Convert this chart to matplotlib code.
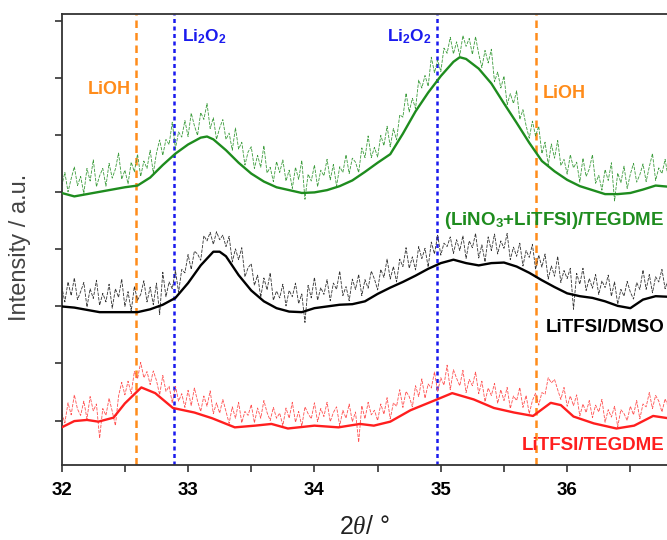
import numpy as np
import matplotlib

matplotlib.use("Agg")
import matplotlib.pyplot as plt

plt.rcParams["font.family"] = ["Liberation Sans", "DejaVu Sans"]
plt.rcParams["mathtext.fontset"] = "custom"
plt.rcParams["mathtext.rm"] = "Liberation Sans"
plt.rcParams["mathtext.bf"] = "Liberation Sans:bold"
plt.rcParams["mathtext.it"] = "Liberation Serif:italic"

# scan angles of the raw patterns (2theta, 0.025 deg step)
two_theta_raw = np.linspace(32.0, 36.8, 193)

# raw (noisy) intensities, stacked offsets included
raw_mixed = [
    4.11, 4.35, 4.01, 4.24, 4.45, 4.12, 4.28, 3.98, 4.42, 4.20,
    4.57, 4.10, 4.29, 4.42, 4.11, 4.51, 4.25, 4.41, 4.69, 4.23,
    4.39, 4.15, 4.53, 4.36, 4.67, 4.28, 4.55, 4.42, 4.74, 4.34,
    4.69, 4.92, 4.65, 4.93, 4.84, 5.23, 4.77, 5.06, 4.97, 5.26,
    4.98, 5.39, 5.17, 5.00, 5.40, 5.28, 5.56, 5.12, 5.31, 4.93,
    5.13, 5.28, 4.93, 5.04, 4.74, 5.13, 4.76, 4.88, 4.48, 4.71,
    4.80, 4.42, 4.65, 4.44, 4.82, 4.34, 4.44, 4.19, 4.54, 4.35,
    4.57, 4.20, 4.39, 4.07, 4.44, 4.23, 4.56, 3.88, 4.32, 4.20,
    4.48, 4.10, 4.39, 4.29, 4.58, 4.22, 4.49, 4.11, 4.45, 4.35,
    4.66, 4.33, 4.60, 4.53, 4.35, 4.78, 4.61, 4.99, 4.61, 4.79,
    4.62, 5.00, 4.82, 5.16, 4.80, 5.12, 4.92, 5.36, 5.32, 5.74,
    5.41, 5.65, 5.47, 5.97, 5.83, 6.05, 5.86, 6.37, 6.10, 6.32,
    6.12, 6.53, 6.44, 6.72, 6.43, 6.64, 6.40, 6.75, 6.56, 6.70,
    6.42, 6.73, 6.43, 6.19, 6.49, 6.27, 6.51, 5.94, 6.11, 5.83,
    6.04, 5.54, 5.73, 5.56, 5.78, 5.28, 5.45, 5.17, 4.95, 5.25,
    4.99, 5.16, 4.68, 4.88, 4.48, 4.85, 4.60, 4.91, 4.47, 4.58,
    4.32, 4.66, 4.43, 4.53, 4.18, 4.60, 4.28, 4.41, 4.66, 4.16,
    4.30, 4.04, 4.40, 4.21, 4.52, 3.85, 4.34, 4.17, 4.46, 4.07,
    4.32, 4.51, 4.18, 4.31, 4.50, 4.19, 4.45, 4.68, 4.21, 4.43,
    4.33, 4.58, 4.25,
]
raw_dmso = [
    2.35, 2.08, 2.43, 2.19, 2.50, 2.12, 2.26, 2.42, 1.99, 2.31,
    2.14, 2.46, 2.02, 2.23, 2.08, 2.39, 1.97, 2.31, 2.16, 2.48,
    2.00, 2.26, 1.92, 2.35, 2.11, 2.21, 2.45, 2.08, 2.34, 2.03,
    2.41, 1.86, 2.60, 2.17, 2.43, 2.31, 2.63, 2.25, 2.65, 2.59,
    2.91, 2.65, 2.97, 2.92, 2.81, 3.24, 3.15, 3.30, 3.09, 3.31,
    3.17, 3.25, 3.05, 3.23, 2.78, 3.01, 2.82, 3.03, 2.52, 2.68,
    2.75, 2.37, 2.55, 2.16, 2.50, 2.29, 2.59, 2.11, 2.27, 2.15,
    2.39, 2.01, 2.28, 2.17, 2.41, 2.05, 2.22, 1.72, 2.37, 2.15,
    2.51, 2.11, 2.33, 2.21, 2.47, 2.10, 2.41, 2.30, 2.62, 2.19,
    2.35, 2.10, 2.48, 2.30, 2.56, 2.19, 2.47, 2.32, 2.62, 2.48,
    2.29, 2.65, 2.51, 2.83, 2.48, 2.70, 2.43, 2.83, 2.70, 3.03,
    2.67, 2.87, 2.64, 3.05, 2.84, 3.02, 2.69, 3.13, 2.92, 3.25,
    2.90, 3.11, 3.05, 3.22, 2.93, 3.17, 2.98, 3.24, 2.84, 3.15,
    3.03, 3.28, 2.85, 3.08, 2.78, 3.22, 2.98, 3.27, 2.92, 3.15,
    3.02, 3.28, 2.82, 3.04, 2.88, 3.11, 2.71, 2.98, 2.86, 3.09,
    2.65, 2.90, 2.69, 2.92, 2.48, 2.71, 2.53, 2.88, 2.42, 2.63,
    2.49, 2.67, 1.95, 2.58, 2.39, 2.67, 2.28, 2.49, 2.32, 2.56,
    2.21, 2.45, 2.33, 2.55, 2.18, 2.43, 2.04, 2.30, 2.18, 2.44,
    2.25, 2.13, 2.42, 2.30, 2.64, 2.30, 2.56, 2.24, 2.52, 2.43,
    2.65, 2.31, 2.48,
]
raw_tegdme = [
    0.13, -0.04, 0.31, 0.10, 0.45, 0.20, 0.09, 0.34, 0.03, 0.42,
    0.17, 0.29, -0.31, 0.21, 0.09, 0.39, 0.16, -0.09, 0.43, 0.67,
    0.45, 0.69, 0.47, 0.86, 0.73, 1.02, 0.75, 0.86, 0.63, 0.87,
    0.70, 0.45, 0.79, 0.51, 0.60, 0.31, 0.60, 0.34, 0.47, 0.23,
    0.53, 0.26, 0.57, 0.34, 0.16, 0.43, 0.25, 0.52, 0.12, 0.31,
    0.13, 0.37, 0.16, -0.05, 0.24, 0.04, 0.32, -0.04, 0.16, 0.09,
    0.28, -0.04, 0.22, 0.04, 0.35, 0.14, 0.00, 0.23, 0.04, 0.13,
    -0.09, 0.22, 0.04, 0.32, -0.03, 0.16, -0.10, 0.24, 0.12, 0.03,
    0.31, -0.02, 0.21, 0.07, 0.32, -0.02, 0.14, 0.24, -0.09, 0.18,
    0.04, 0.29, -0.02, 0.15, -0.38, 0.26, 0.03, 0.32, 0.10, 0.18,
    0.00, 0.29, 0.11, 0.40, 0.03, 0.31, 0.25, 0.54, 0.23, 0.51,
    0.42, 0.24, 0.61, 0.42, 0.73, 0.39, 0.64, 0.57, 0.85, 0.51,
    0.75, 0.62, 0.97, 0.54, 0.89, 0.74, 0.61, 0.88, 0.49, 0.72,
    0.61, 0.85, 0.47, 0.69, 0.33, 0.57, 0.44, 0.65, 0.30, 0.54,
    0.35, 0.58, 0.21, 0.43, 0.35, 0.58, 0.23, 0.44, 0.12, 0.35,
    0.48, 0.27, 0.49, 0.46, 0.75, 0.66, 0.72, 0.54, 0.37, 0.58,
    0.25, 0.43, 0.26, 0.45, 0.08, 0.29, 0.14, 0.35, 0.05, 0.27,
    0.15, 0.37, -0.03, 0.19, 0.06, 0.25, -0.11, 0.19, 0.12, 0.00,
    0.25, 0.10, 0.35, 0.03, 0.29, 0.24, 0.49, 0.21, 0.44, 0.34,
    0.15, 0.38, 0.24,
]

# smoothed curves
mixed_x = [32.0, 32.1, 32.2, 32.3, 32.4, 32.5, 32.6, 32.7, 32.8, 32.9,
           33.0, 33.1, 33.15, 33.2, 33.3, 33.4, 33.5, 33.6, 33.7, 33.8,
           33.9, 34.0, 34.1, 34.2, 34.3, 34.4, 34.5, 34.6, 34.7, 34.8,
           34.9, 35.0, 35.1, 35.15, 35.2, 35.3, 35.4, 35.5, 35.6, 35.7,
           35.8, 35.9, 36.0, 36.1, 36.2, 36.3, 36.4, 36.5, 36.6, 36.7, 36.8]
mixed_y = [3.99, 3.93, 3.97, 4.01, 4.05, 4.09, 4.12, 4.26, 4.48, 4.68,
           4.84, 4.96, 4.98, 4.93, 4.74, 4.52, 4.33, 4.19, 4.09, 4.04,
           3.99, 4.00, 4.04, 4.11, 4.21, 4.36, 4.52, 4.67, 5.03, 5.42,
           5.75, 6.04, 6.29, 6.37, 6.34, 6.17, 5.91, 5.56, 5.22, 4.87,
           4.55, 4.37, 4.22, 4.11, 4.04, 3.97, 3.97, 3.99, 4.05, 4.12, 4.10]

dmso_x = [32.0, 32.1, 32.2, 32.3, 32.4, 32.5, 32.6, 32.7, 32.8, 32.9,
          33.0, 33.1, 33.2, 33.25, 33.3, 33.4, 33.5, 33.6, 33.7, 33.8,
          33.9, 34.0, 34.1, 34.2, 34.3, 34.4, 34.5, 34.6, 34.7, 34.8,
          34.9, 35.0, 35.1, 35.2, 35.3, 35.4, 35.5, 35.6, 35.7, 35.8,
          35.9, 36.0, 36.1, 36.2, 36.3, 36.4, 36.5, 36.6, 36.7, 36.8]
dmso_y = [2.00, 1.98, 1.94, 1.90, 1.90, 1.90, 1.90, 1.95, 2.03, 2.15,
          2.41, 2.72, 2.96, 2.96, 2.88, 2.55, 2.28, 2.09, 1.97, 1.91,
          1.90, 1.97, 2.00, 2.03, 2.04, 2.09, 2.22, 2.33, 2.43, 2.54,
          2.66, 2.76, 2.82, 2.76, 2.72, 2.76, 2.77, 2.70, 2.59, 2.46,
          2.34, 2.23, 2.18, 2.15, 2.09, 2.01, 1.97, 2.12, 2.18, 2.17]

tegdme_x = [32.0, 32.1, 32.2, 32.29, 32.41, 32.5, 32.63, 32.74, 32.88, 33.05,
            33.19, 33.37, 33.53, 33.66, 33.79, 34.0, 34.19, 34.36, 34.47, 34.6,
            34.76, 34.97, 35.09, 35.26, 35.42, 35.58, 35.73, 35.87, 35.95, 36.05,
            36.21, 36.39, 36.53, 36.68, 36.8]
tegdme_y = [-0.12, -0.01, 0.01, -0.02, 0.05, 0.30, 0.58, 0.48, 0.22, 0.14,
            0.04, -0.12, -0.09, -0.06, -0.14, -0.09, -0.12, -0.06, -0.09, -0.02,
            0.18, 0.37, 0.48, 0.37, 0.22, 0.14, 0.08, 0.31, 0.27, 0.07,
            -0.05, -0.14, -0.09, 0.08, 0.04]

lioh_pos = [32.59, 35.75]
li2o2_pos = [32.89, 34.97]

GREEN = "#1e8c1e"
RED = "#ff1e1e"
ORANGE = "#ff8c1a"
BLUE = "#1a1aee"

fig = plt.figure(figsize=(6.67, 5.40), dpi=100)
ax = fig.add_axes([0.0925, 0.1389, 0.9075, 0.8343])

for pos in lioh_pos:
    ax.axvline(pos, color=ORANGE, lw=1.8, ls=(0, (3, 2)), zorder=1)
for pos in li2o2_pos:
    ax.axvline(pos, color=BLUE, lw=1.8, ls=(0, (1.6, 1.4)), zorder=1)

raw_style = dict(lw=0.6, ls=(0, (4, 1.5)), zorder=2)
ax.plot(two_theta_raw, raw_mixed, color="#3c9c3c", **raw_style)
ax.plot(two_theta_raw, raw_dmso, color="#333333", **raw_style)
ax.plot(two_theta_raw, raw_tegdme, color="#ff5050", **raw_style)

ax.plot(mixed_x, mixed_y, color=GREEN, lw=1.7, zorder=3)
ax.plot(dmso_x, dmso_y, color="black", lw=1.7, zorder=3)
ax.plot(tegdme_x, tegdme_y, color=RED, lw=1.7, zorder=3)

ax.text(32.545, 5.80, "LiOH", color=ORANGE, fontsize=13, fontweight="bold",
        ha="right", va="center")
ax.text(35.81, 5.74, "LiOH", color=ORANGE, fontsize=13, fontweight="bold",
        ha="left", va="center")
ax.text(32.95, 6.72, r"Li$_\mathbf{2}$O$_\mathbf{2}$", color=BLUE, fontsize=12.5,
        fontweight="bold", ha="left", va="center")
ax.text(34.93, 6.72, r"Li$_\mathbf{2}$O$_\mathbf{2}$", color=BLUE, fontsize=12.5,
        fontweight="bold", ha="right", va="center")

ax.text(36.77, 3.50, r"(LiNO$_\mathbf{3}$+LiTFSI)/TEGDME", color=GREEN,
        fontsize=13.5, fontweight="bold", ha="right", va="center")
ax.text(36.77, 1.63, "LiTFSI/DMSO", color="black", fontsize=13.5,
        fontweight="bold", ha="right", va="center")
ax.text(36.77, -0.43, "LiTFSI/TEGDME", color=RED, fontsize=13.5,
        fontweight="bold", ha="right", va="center")

ax.set_xlim(32, 36.79)
ax.set_ylim(-0.78, 7.12)
ax.set_xticks([32, 33, 34, 35, 36])
ax.set_xticks([32.5, 33.5, 34.5, 35.5, 36.5], minor=True)
ax.set_yticks(range(8))
ax.set_yticklabels([])
ax.tick_params(axis="both", which="both", direction="out", width=1.2,
               color="#333333", length=5)
ax.tick_params(axis="x", which="major", pad=7)
for lbl in ax.get_xticklabels():
    lbl.set_fontweight("bold")
    lbl.set_fontsize(13.5)
ax.spines["right"].set_visible(False)
for side in ("left", "top", "bottom"):
    ax.spines[side].set_linewidth(1.3)
    ax.spines[side].set_color("#333333")

ax.set_xlabel(r"2$\mathit{\theta}$/ °", fontsize=18, color="#222222")
ax.xaxis.set_label_coords(0.5, -0.11)
ax.set_ylabel("Intensity / a.u.", fontsize=17, color="#444444")
ax.yaxis.set_label_coords(-0.05, 0.483)

fig.savefig("out.png", dpi=100)
